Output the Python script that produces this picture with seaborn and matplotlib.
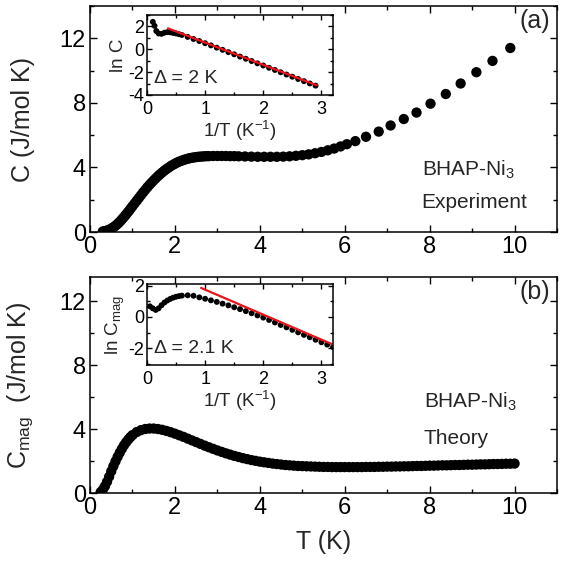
import numpy as np
import pandas as pd
import matplotlib
matplotlib.use("Agg")
import matplotlib.pyplot as plt
import seaborn as sns
from matplotlib.ticker import MultipleLocator

# ---------------- data ----------------
# (a) experiment: C vs T
T_a = [0.30, 0.33, 0.36, 0.40, 0.44, 0.48, 0.52, 0.56, 0.60, 0.64, 0.68, 0.72, 0.76, 0.80,
       0.84, 0.88, 0.92, 0.96, 1.00, 1.05, 1.10, 1.15, 1.20, 1.25, 1.30, 1.35, 1.40, 1.45,
       1.50, 1.55, 1.60, 1.65, 1.70, 1.75, 1.80, 1.85, 1.90, 1.95, 2.00, 2.05, 2.10, 2.15,
       2.20, 2.25, 2.30, 2.35, 2.40, 2.45, 2.50, 2.55, 2.60, 2.65, 2.70, 2.75, 2.80, 2.90,
       3.00, 3.10, 3.20, 3.30, 3.40, 3.50, 3.65, 3.80, 3.95, 4.10, 4.25, 4.40, 4.55, 4.70,
       4.85, 5.00, 5.15, 5.30, 5.45, 5.60, 5.75, 5.90, 6.05, 6.25, 6.50, 6.80, 7.08, 7.39,
       7.69, 8.02, 8.38, 8.73, 9.10, 9.48, 9.90]
C_a = [0.03, 0.04, 0.06, 0.09, 0.13, 0.18, 0.24, 0.31, 0.39, 0.48, 0.58, 0.69, 0.81, 0.93,
       1.06, 1.19, 1.32, 1.46, 1.60, 1.77, 1.94, 2.11, 2.28, 2.45, 2.61, 2.77, 2.92, 3.06,
       3.20, 3.33, 3.46, 3.58, 3.69, 3.80, 3.90, 3.99, 4.08, 4.16, 4.23, 4.30, 4.36, 4.41,
       4.46, 4.50, 4.54, 4.57, 4.60, 4.62, 4.64, 4.66, 4.67, 4.68, 4.69, 4.70, 4.70, 4.71,
       4.71, 4.71, 4.71, 4.70, 4.70, 4.69, 4.68, 4.67, 4.66, 4.66, 4.66, 4.66, 4.67, 4.69,
       4.72, 4.76, 4.81, 4.88, 4.96, 5.06, 5.17, 5.30, 5.44, 5.63, 5.90, 6.22, 6.60, 7.00,
       7.40, 7.95, 8.55, 9.20, 9.90, 10.60, 11.40]

# (b) theory: C_mag vs T
T_b = [0.25, 0.30, 0.35, 0.40, 0.45, 0.50, 0.55, 0.60, 0.65, 0.70, 0.75, 0.80, 0.85, 0.90,
       0.95, 1.00, 1.10, 1.20, 1.30, 1.40, 1.50, 1.60, 1.70, 1.80, 1.90, 2.00, 2.10, 2.20,
       2.30, 2.40, 2.50, 2.60, 2.70, 2.80, 2.90, 3.00, 3.10, 3.20, 3.30, 3.40, 3.50, 3.60,
       3.70, 3.80, 3.90, 4.00, 4.10, 4.20, 4.30, 4.40, 4.50, 4.60, 4.70, 4.80, 4.90, 5.00,
       5.10, 5.20, 5.30, 5.40, 5.50, 5.60, 5.70, 5.80, 5.90, 6.00, 6.10, 6.20, 6.30, 6.40,
       6.50, 6.60, 6.70, 6.80, 6.90, 7.00, 7.10, 7.20, 7.30, 7.40, 7.50, 7.60, 7.70, 7.80,
       7.90, 8.00, 8.10, 8.20, 8.30, 8.40, 8.50, 8.60, 8.70, 8.80, 8.90, 9.00, 9.10, 9.20,
       9.30, 9.40, 9.50, 9.60, 9.70, 9.80, 9.90, 10.00]
C_b = [0.05, 0.20, 0.42, 0.70, 1.02, 1.36, 1.68, 1.98, 2.26, 2.52, 2.76, 2.98, 3.17, 3.34,
       3.49, 3.62, 3.81, 3.93, 4.00, 4.03, 4.03, 4.00, 3.95, 3.88, 3.80, 3.71, 3.61, 3.51,
       3.40, 3.29, 3.18, 3.07, 2.96, 2.86, 2.76, 2.66, 2.57, 2.48, 2.40, 2.32, 2.25, 2.18,
       2.12, 2.06, 2.01, 1.96, 1.92, 1.88, 1.84, 1.81, 1.78, 1.75, 1.73, 1.71, 1.69, 1.68,
       1.67, 1.66, 1.65, 1.64, 1.63, 1.63, 1.62, 1.62, 1.62, 1.62, 1.62, 1.62, 1.62, 1.62,
       1.63, 1.63, 1.63, 1.64, 1.64, 1.65, 1.65, 1.66, 1.66, 1.67, 1.67, 1.68, 1.69, 1.69,
       1.70, 1.71, 1.71, 1.72, 1.73, 1.73, 1.74, 1.75, 1.75, 1.76, 1.77, 1.77, 1.78, 1.79,
       1.79, 1.80, 1.81, 1.81, 1.82, 1.83, 1.83, 1.84]

# inset (a): ln C vs 1/T
invT_a = [0.10, 0.13, 0.16, 0.20, 0.25, 0.30, 0.35, 0.40, 0.45, 0.50, 0.55, 0.60, 0.70,
          0.80, 0.90, 1.00, 1.10, 1.20, 1.30, 1.40, 1.50, 1.60, 1.70, 1.80, 1.90, 2.00,
          2.10, 2.20, 2.30, 2.40, 2.50, 2.60, 2.70, 2.80, 2.90]
lnC_a = [2.40, 2.05, 1.60, 1.38, 1.35, 1.45, 1.50, 1.48, 1.43, 1.38, 1.32, 1.25, 1.08,
         0.90, 0.72, 0.53, 0.34, 0.14, -0.05, -0.25, -0.44, -0.64, -0.83, -1.03, -1.23,
         -1.42, -1.62, -1.81, -2.01, -2.21, -2.40, -2.60, -2.79, -2.99, -3.18]
fit_a_x = [0.36, 2.92]
fit_a_y = [1.83, -3.15]

# inset (b): ln C_mag vs 1/T
invT_b = [0.05, 0.10, 0.15, 0.20, 0.25, 0.30, 0.35, 0.40, 0.45, 0.50, 0.55, 0.60, 0.70,
          0.80, 0.90, 1.00, 1.10, 1.20, 1.30, 1.40, 1.50, 1.60, 1.70, 1.80, 1.90, 2.00,
          2.10, 2.20, 2.30, 2.40, 2.50, 2.60, 2.70, 2.80, 2.90, 3.00, 3.10, 3.20]
lnC_b = [0.68, 0.55, 0.45, 0.55, 0.75, 0.92, 1.05, 1.15, 1.23, 1.29, 1.33, 1.36, 1.38,
         1.35, 1.25, 1.16, 1.06, 0.96, 0.85, 0.74, 0.62, 0.50, 0.37, 0.24, 0.10, -0.04,
         -0.19, -0.35, -0.51, -0.66, -0.82, -0.98, -1.14, -1.29, -1.45, -1.61, -1.76, -1.92]
fit_b_x = [0.93, 3.2]
fit_b_y = [1.85, -1.76]

labels = {"a": "(a)", "b": "(b)"}

# ---------------- style ----------------
sns.set_theme(style="ticks")
plt.rcParams["font.family"] = ["Liberation Sans", "DejaVu Sans"]
plt.rcParams["mathtext.fontset"] = "custom"
plt.rcParams["mathtext.rm"] = "Liberation Sans"
plt.rcParams["mathtext.it"] = "Liberation Sans:italic"
plt.rcParams["axes.unicode_minus"] = False

fig = plt.figure(figsize=(5.63, 5.74), dpi=100)
ax1 = fig.add_axes([0.1599, 0.5958, 0.8295, 0.3937])
ax2 = fig.add_axes([0.1599, 0.1411, 0.8295, 0.3763])
ins1 = fig.add_axes([0.2611, 0.8345, 0.3304, 0.1394])
ins2 = fig.add_axes([0.2611, 0.3641, 0.3304, 0.1411])


def style_axes(ax, fs, major_len, minor_len):
    ax.tick_params(which="both", direction="in", top=True, right=True, width=1.0,
                   colors="black", labelsize=fs, pad=3)
    ax.tick_params(which="major", length=major_len)
    ax.tick_params(which="minor", length=minor_len)
    for s in ax.spines.values():
        s.set_linewidth(1.1)
        s.set_color("black")


# main panels
sns.scatterplot(x=T_a, y=C_a, ax=ax1, color="black", s=55, edgecolor="none", legend=False)
sns.scatterplot(x=T_b, y=C_b, ax=ax2, color="black", s=55, edgecolor="none", legend=False)

for ax, ylim in ((ax1, (0, 14)), (ax2, (0, 13.5))):
    ax.set_xlim(0, 11)
    ax.set_ylim(*ylim)
    ax.xaxis.set_major_locator(MultipleLocator(2))
    ax.xaxis.set_minor_locator(MultipleLocator(1))
    ax.yaxis.set_major_locator(MultipleLocator(4))
    ax.yaxis.set_minor_locator(MultipleLocator(2))
    style_axes(ax, 17, 5, 3)

ax1.set_ylabel("C (J/mol K)", fontsize=18)
ax2.set_ylabel(r"C$_{\mathrm{mag}}$  (J/mol K)", fontsize=18)
ax2.set_xlabel("T (K)", fontsize=18, labelpad=8)
ax1.set_xlabel("")
ax1.yaxis.set_label_coords(-0.118, 0.5)
ax2.yaxis.set_label_coords(-0.118, 0.5)

ax1.text(0.985, 0.985, labels["a"], transform=ax1.transAxes, ha="right", va="top", fontsize=18)
ax2.text(0.985, 0.985, labels["b"], transform=ax2.transAxes, ha="right", va="top", fontsize=18)
ax1.text(0.71, 0.25, r"BHAP-Ni$_3$", transform=ax1.transAxes, ha="left", va="baseline", fontsize=15)
ax1.text(0.71, 0.105, "Experiment", transform=ax1.transAxes, ha="left", va="baseline", fontsize=15)
ax2.text(0.715, 0.395, r"BHAP-Ni$_3$", transform=ax2.transAxes, ha="left", va="baseline", fontsize=15)
ax2.text(0.715, 0.225, "Theory", transform=ax2.transAxes, ha="left", va="baseline", fontsize=15)

# insets
sns.scatterplot(x=invT_a, y=lnC_a, ax=ins1, color="black", s=18, edgecolor="none", legend=False)
sns.lineplot(x=fit_a_x, y=fit_a_y, ax=ins1, color="#e8141a", linewidth=1.6, legend=False)
sns.scatterplot(x=invT_b, y=lnC_b, ax=ins2, color="black", s=18, edgecolor="none", legend=False)
sns.lineplot(x=fit_b_x, y=fit_b_y, ax=ins2, color="#e8141a", linewidth=1.6, legend=False)

ins1.set_xlim(0, 3.2)
ins1.set_ylim(-4, 3)
ins1.yaxis.set_major_locator(MultipleLocator(2))
ins1.yaxis.set_minor_locator(MultipleLocator(1))
ins2.set_xlim(0, 3.2)
ins2.set_ylim(-3.06, 2.1)
ins2.yaxis.set_major_locator(MultipleLocator(2))
ins2.yaxis.set_minor_locator(MultipleLocator(1))
for ins in (ins1, ins2):
    ins.xaxis.set_major_locator(MultipleLocator(1))
    ins.xaxis.set_minor_locator(MultipleLocator(0.5))
    style_axes(ins, 13, 3.5, 2)
    ins.set_facecolor("white")
    ins.set_xlabel(r"1/T (K$^{\mathrm{-1}}$)", fontsize=13.5, labelpad=1)
    ins.tick_params(axis="y", pad=2)
    ins.tick_params(axis="x", pad=4)

ins1.set_ylabel("ln C", fontsize=13.5, labelpad=1)
ins2.set_ylabel(r"ln C$_{\mathrm{mag}}$", fontsize=13.5, labelpad=1)
ins1.text(0.04, 0.1, "Δ = 2 K", transform=ins1.transAxes, ha="left", va="bottom", fontsize=14)
ins2.text(0.04, 0.1, "Δ = 2.1 K", transform=ins2.transAxes, ha="left", va="bottom", fontsize=14)

fig.savefig("out.png", dpi=100)
